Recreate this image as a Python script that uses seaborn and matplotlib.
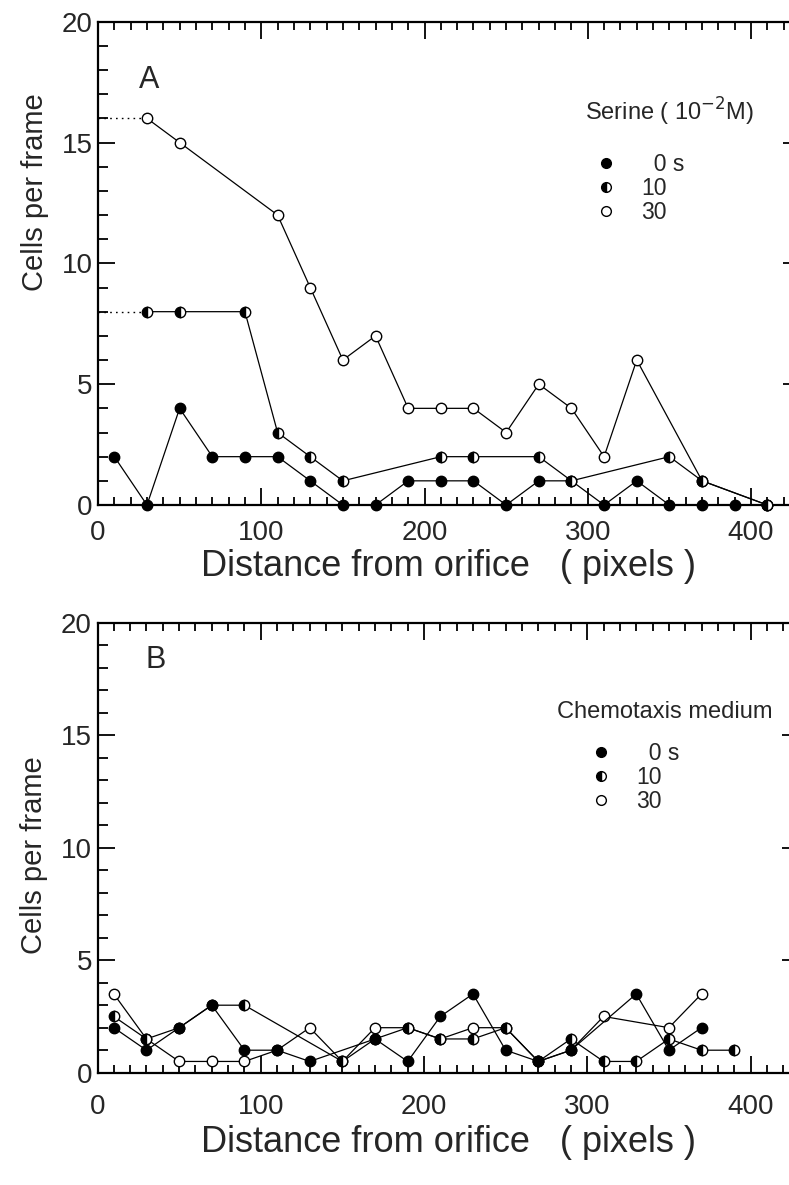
import matplotlib
matplotlib.use('Agg')
import matplotlib.pyplot as plt
import seaborn as sns
from matplotlib.lines import Line2D
from matplotlib.ticker import MultipleLocator

# --- Panel A: serine 10^-2 M, cells per frame vs distance ---
a0_x = [10, 30, 50, 70, 90, 110, 130, 150, 170, 190, 210, 230, 250, 270, 290, 310, 330, 350, 370, 390, 410]
a0_y = [2, 0, 4, 2, 2, 2, 1, 0, 0, 1, 1, 1, 0, 1, 1, 0, 1, 0, 0, 0, 0]
a10_x = [30, 50, 90, 110, 130, 150, 210, 230, 270, 290, 350, 370, 410]
a10_y = [8, 8, 8, 3, 2, 1, 2, 2, 2, 1, 2, 1, 0]
a30_x = [30, 50, 110, 130, 150, 170, 190, 210, 230, 250, 270, 290, 310, 330, 370, 410]
a30_y = [16, 15, 12, 9, 6, 7, 4, 4, 4, 3, 5, 4, 2, 6, 1, 0]
# dotted guides back to the orifice
guide_x = [0, 30]
guide_levels = [16, 8]

# --- Panel B: chemotaxis medium ---
b0_x = [10, 30, 50, 70, 90, 110, 130, 170, 190, 210, 230, 250, 270, 290, 330, 350, 370]
b0_y = [2, 1, 2, 3, 1, 1, 0.5, 1.5, 0.5, 2.5, 3.5, 1, 0.5, 1, 3.5, 1, 2]
b10_x = [10, 30, 50, 70, 90, 150, 170, 190, 210, 230, 250, 270, 290, 310, 330, 350, 370, 390]
b10_y = [2.5, 1.5, 2, 3, 3, 0.5, 1.5, 2, 1.5, 1.5, 2, 0.5, 1.5, 0.5, 0.5, 1.5, 1, 1]
b30_x = [10, 30, 50, 70, 90, 110, 130, 150, 170, 190, 210, 230, 250, 270, 290, 310, 350, 370]
b30_y = [3.5, 1.5, 0.5, 0.5, 0.5, 1, 2, 0.5, 2, 2, 1.5, 2, 2, 0.5, 1, 2.5, 2, 3.5]

time_labels = ['\u20070 s', '10', '30']
x_ticks = [0, 100, 200, 300, 400]
y_ticks = [0, 5, 10, 15, 20]

sns.set_style('ticks')
plt.rcParams['font.family'] = ['Liberation Sans', 'DejaVu Sans']

# marker styles for the three time points
styles = {
    '0': dict(fillstyle='full', markerfacecolor='black'),
    '10': dict(fillstyle='left', markerfacecolor='black', markerfacecoloralt='white'),
    '30': dict(fillstyle='full', markerfacecolor='white'),
}


def draw_series(ax, x, y, key, z):
    sns.lineplot(x=x, y=y, ax=ax, color='black', linewidth=0.9, marker='o',
                 markersize=7.5, markeredgecolor='black', markeredgewidth=1.0,
                 errorbar=None, sort=False, clip_on=False, zorder=z, **styles[key])


def style_axis(ax, xpad, xlabelpad, ylabel_y):
    ax.set_xlim(0, 430)
    ax.set_ylim(0, 20)
    ax.xaxis.set_major_locator(MultipleLocator(100))
    ax.xaxis.set_minor_locator(MultipleLocator(10))
    ax.yaxis.set_major_locator(MultipleLocator(5))
    ax.yaxis.set_minor_locator(MultipleLocator(1))
    ax.set_xticks(x_ticks)
    ax.set_yticks(y_ticks)
    ax.tick_params(axis='both', which='both', direction='in',
                   top=True, bottom=True, left=True, right=True,
                   width=1.3, color='black')
    ax.tick_params(axis='x', which='major', length=12, pad=xpad, labelsize=20)
    ax.tick_params(axis='x', which='minor', length=6)
    ax.tick_params(axis='y', which='major', length=12.5, pad=4, labelsize=20)
    ax.tick_params(axis='y', which='minor', length=7)
    for s in ax.spines.values():
        s.set_linewidth(1.6)
        s.set_color('black')
    ax.set_xlabel('Distance from orifice   ( pixels )', fontsize=26, labelpad=xlabelpad)
    ax.set_ylabel('Cells per frame', fontsize=21)
    ax.yaxis.set_label_coords(-0.07, ylabel_y)


def legend_handles():
    return [Line2D([], [], marker='o', linestyle='none', color='black',
                   markersize=7, markeredgecolor='black', markeredgewidth=1.0,
                   **styles[k]) for k in ['0', '10', '30']]


def add_legend(ax, anchor):
    ax.legend(legend_handles(), time_labels, loc='upper left', bbox_to_anchor=anchor,
              frameon=False, borderpad=0, borderaxespad=0, handlelength=1.0,
              handletextpad=1.0, labelspacing=0.05, fontsize=16.5)


fig = plt.figure(figsize=(7.89, 11.85), dpi=100)
axA = fig.add_axes([98 / 789, 1 - 505 / 1185, 702 / 789, 483.3 / 1185])
axB = fig.add_axes([97.5 / 789, 1 - 1072.7 / 1185, 702 / 789, 450 / 1185])

# Panel A
for lvl in guide_levels:
    axA.plot(guide_x, [lvl, lvl], color='black', linewidth=1.0, linestyle=(0, (1.2, 3)))
draw_series(axA, a0_x, a0_y, '0', 3)
draw_series(axA, a30_x, a30_y, '30', 4)
draw_series(axA, a10_x, a10_y, '10', 5)
style_axis(axA, xpad=11, xlabelpad=2, ylabel_y=0.648)
axA.text(0.073, 0.879, 'A', transform=axA.transAxes, fontsize=22, ha='center', va='center')
axA.text(0.694, 0.813, 'Serine ( 10$^{-2}$M)', transform=axA.transAxes,
         fontsize=17, ha='left', va='center')
add_legend(axA, (0.708, 0.728))

# Panel B
draw_series(axB, b30_x, b30_y, '30', 3)
draw_series(axB, b10_x, b10_y, '10', 4)
draw_series(axB, b0_x, b0_y, '0', 5)
style_axis(axB, xpad=15, xlabelpad=4, ylabel_y=0.484)
axB.text(0.083, 0.917, 'B', transform=axB.transAxes, fontsize=22, ha='center', va='center')
axB.text(0.655, 0.8016, 'Chemotaxis medium', transform=axB.transAxes,
         fontsize=17, ha='left', va='center')
add_legend(axB, (0.7016, 0.735))

fig.savefig('out.png', dpi=100)
plt.close(fig)
